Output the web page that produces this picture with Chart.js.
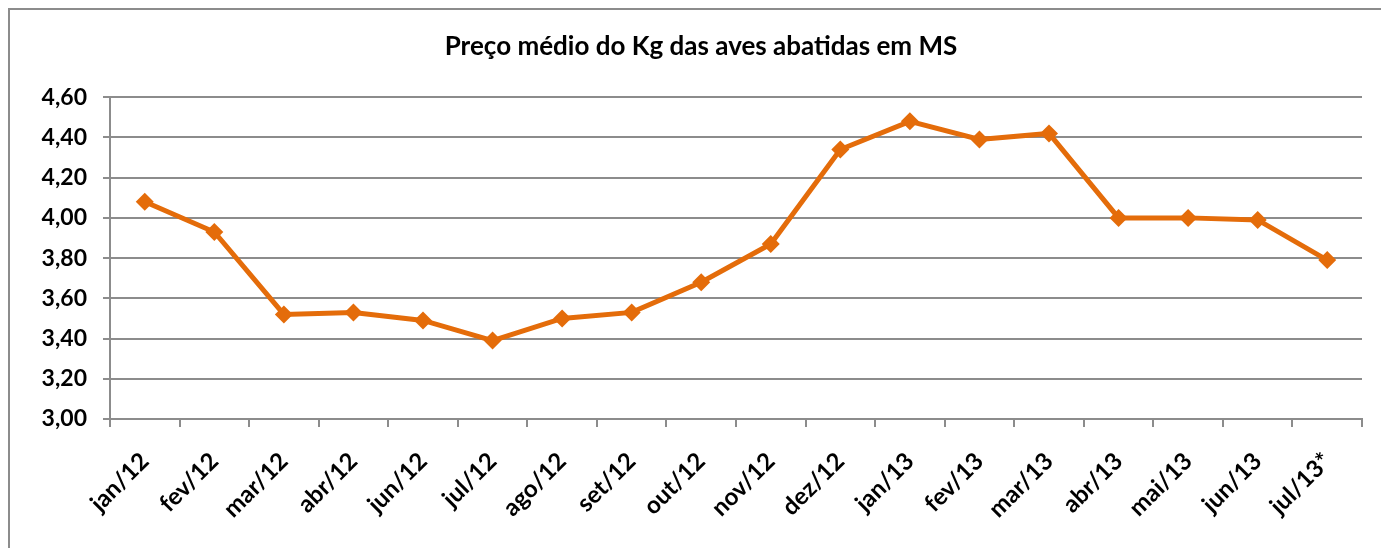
<!DOCTYPE html>
<html>
<head>
<meta charset="utf-8">
<script src="https://cdn.jsdelivr.net/npm/chart.js@4"></script>
<style>
  body { margin: 0; background: #fff; }
  #frame { position: absolute; left: 8px; top: 8px; width: 1400px; height: 600px;
           border-left: 2px solid #8c8c8c; border-top: 2px solid #8c8c8c; }
  #precos { position: absolute; left: 0; top: 0; }
</style>
</head>
<body>
<div id="frame"></div>
<canvas id="precos" width="1381" height="548"></canvas>
<script>
var meses = ["jan/12", "fev/12", "mar/12", "abr/12", "jun/12", "jul/12", "ago/12", "set/12",
  "out/12", "nov/12", "dez/12", "jan/13", "fev/13", "mar/13", "abr/13", "mai/13", "jun/13", "jul/13*"];
var precoKg = [4.08, 3.93, 3.52, 3.53, 3.49, 3.39, 3.50, 3.53, 3.68, 3.87, 4.34, 4.48, 4.39, 4.42, 4.00, 4.00, 3.99, 3.79];
var titulo = "Preço médio do Kg das aves abatidas em MS";

var fonte = "Lato, 'Open Sans', sans-serif";
var cinza = "#8c8c8c";
var laranja = "#e46c0a";

function gerarGrafico() {
    var ctx = document.getElementById('precos');
    var grafico = new Chart(ctx, {
        type: 'line',
        data: {
            labels: meses,
            datasets: [
                {
                    label: "Preço",
                    data: precoKg,
                    fill: false,
                    borderColor: laranja,
                    backgroundColor: laranja,
                    borderWidth: 5,
                    pointStyle: 'rectRot',
                    pointRadius: 9,
                    pointBorderWidth: 0,
                    tension: 0
                }
            ]
        },
        options: {
            responsive: false,
            animation: false,
            layout: { padding: { left: 40, right: 19, top: 0, bottom: 0 } },
            plugins: {
                legend: { display: false },
                tooltip: { enabled: false },
                title: {
                    display: true,
                    text: titulo,
                    color: "#000",
                    font: { family: fonte, size: 26, weight: 'bold' },
                    padding: { top: 31, bottom: 35 }
                }
            },
            scales: {
                x: {
                    offset: true,
                    grid: { offset: true, drawOnChartArea: false, drawTicks: true, tickLength: 8, color: cinza, lineWidth: 2 },
                    border: { color: cinza, width: 2 },
                    ticks: {
                        color: "#000",
                        font: { family: fonte, size: 24, weight: 'bold' },
                        maxRotation: 45, minRotation: 45, autoSkip: false, padding: 20
                    },
                    afterFit: function (s) { s.height = 129; }
                },
                y: {
                    min: 3, max: 4.6,
                    grid: { color: cinza, lineWidth: 2, tickLength: 7 },
                    border: { color: cinza, width: 2 },
                    ticks: {
                        stepSize: 0.2,
                        color: "#000",
                        padding: 16,
                        font: { family: fonte, size: 23, weight: 'bold' },
                        callback: function (v) { return v.toFixed(2).replace('.', ','); }
                    },
                    afterFit: function (s) { s.width = 70; }
                }
            }
        }
    });
}

gerarGrafico();
</script>
</body>
</html>
